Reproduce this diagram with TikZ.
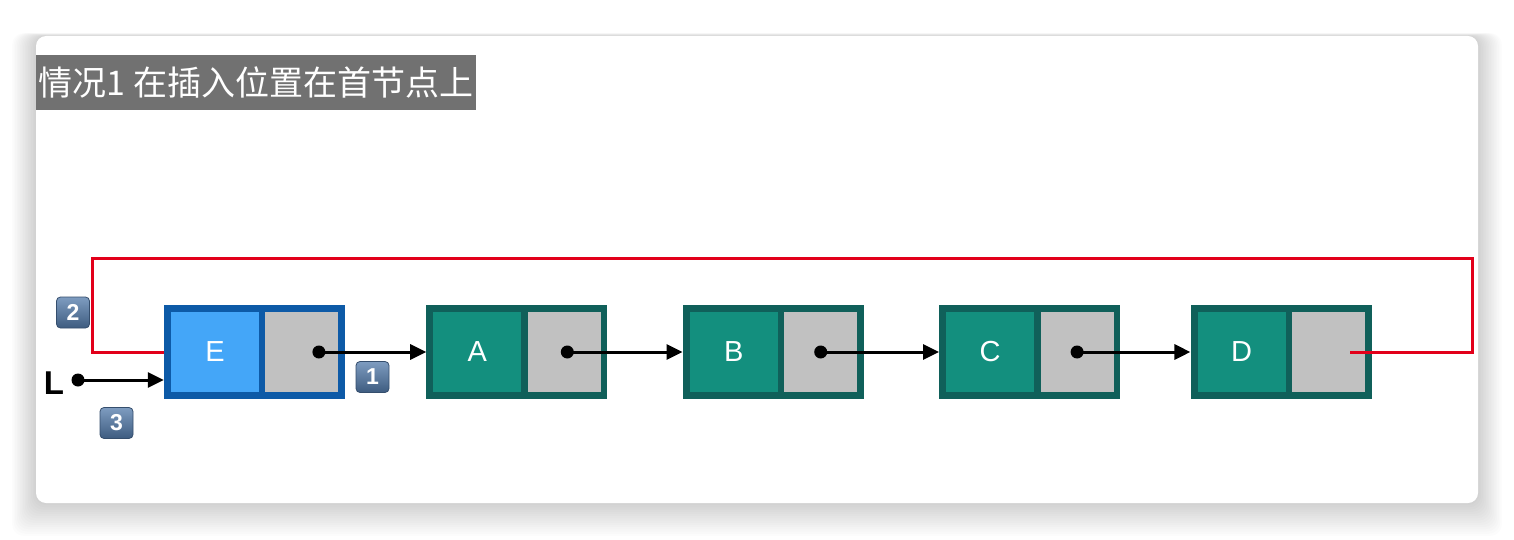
\documentclass[tikz,border=0pt]{standalone}
\usepackage{fontspec}
\setmainfont{Liberation Sans}
\newfontfamily\cjk{Noto Sans CJK SC}
\usetikzlibrary{arrows.meta,calc,positioning}
\definecolor{eblue}{HTML}{44A6F8}
\definecolor{eframe}{HTML}{0D5AA7}
\definecolor{nodeteal}{HTML}{138F7E}
\definecolor{tealframe}{HTML}{10605A}
\definecolor{cellgray}{HTML}{C1C1C1}
\definecolor{loopred}{HTML}{E2001A}
\definecolor{titlegray}{HTML}{717171}
\definecolor{badgetop}{HTML}{7E9CC0}
\definecolor{badgebot}{HTML}{3E5C80}

\begin{document}
\begin{tikzpicture}[x=1pt,y=-1pt,
 every node/.style={font=\fontsize{29}{29}\selectfont,text=white,inner sep=0pt},
 frame/.style={minimum width=181pt,minimum height=94pt,fill=#1},
 datacell/.style={minimum width=88pt,minimum height=80pt,fill=#1},
 ptrcell/.style={minimum width=73pt,minimum height=80pt,fill=cellgray},
 titlebox/.style={fill=titlegray,minimum width=440pt,minimum height=55pt,
   font=\cjk\fontsize{34}{34}\selectfont},
 badge/.style={minimum width=33pt,minimum height=31pt,rounded corners=4pt,
   top color=badgetop,bottom color=badgebot,draw=badgebot!85!black,line width=.8pt,
   font=\bfseries\fontsize{23}{23}\selectfont},
 arr/.style={-{Triangle[length=16pt,width=15pt]},line width=3pt},
 link/.style={draw=loopred,line width=3pt}]
 \useasboundingbox (0,0) rectangle (1514,540);
 \fill[white] (0,0) rectangle (1514,540);
 \foreach \i in {1,...,15}
  \fill[black,opacity=.01,rounded corners=12pt]
   ({36-1.6*\i},{36-.2*\i}) rectangle ({1478+1.6*\i},{503+2.2*\i});
 \fill[white,rounded corners=10pt] (36,36) rectangle (1478,503);
 \node[titlebox,anchor=north west] (title) at (36,55) {情况1 在插入位置在首节点上};

 \node[frame=eframe] (Ef) at (254.5,352) {};
 \node[datacell=eblue,right=7pt of Ef.west] (E) {E};
 \node[ptrcell,right=6pt of E] (Ep) {};
 \node[frame=tealframe,right=81pt of Ef] (Af) {};
 \node[datacell=nodeteal,right=7pt of Af.west] (A) {A};
 \node[ptrcell,right=6pt of A] (Ap) {};
 \node[frame=tealframe,right=75pt of Af] (Bf) {};
 \node[datacell=nodeteal,right=7pt of Bf.west] (B) {B};
 \node[ptrcell,right=6pt of B] (Bp) {};
 \node[frame=tealframe,right=75pt of Bf] (Cf) {};
 \node[datacell=nodeteal,right=7pt of Cf.west] (C) {C};
 \node[ptrcell,right=6pt of C] (Cp) {};
 \node[frame=tealframe,right=70pt of Cf] (Df) {};
 \node[datacell=nodeteal,right=7pt of Df.west] (D) {D};
 \node[ptrcell,right=6pt of D] (Dp) {};

 \coordinate[right=17pt of Ep.center] (Edot);
 \coordinate[right=3pt of Ap.center] (Adot);
 \coordinate (Bdot) at (Bp.center);
 \coordinate (Cdot) at (Cp.center);
 \coordinate[right=21pt of Dp.center] (Dend);
 \foreach \p in {Edot,Adot,Bdot,Cdot} \fill (\p) circle (6.5pt);
 \draw[arr] (Edot) -- (Edot -| Af.west);
 \draw[arr] (Adot) -- (Adot -| Bf.west);
 \draw[arr] (Bdot) -- (Bdot -| Cf.west);
 \draw[arr] (Cdot) -- (Cdot -| Df.west);

 \draw[link] (Ef.west) -- ++(-71,0) |- ($(Df.east)+(101,-94)$) |- (Dend);

 \node[text=black,font=\bfseries\fontsize{33}{33}\selectfont] (L) at (54,383) {L};
 \coordinate (Ldot) at (78,380);
 \fill (Ldot) circle (6.5pt);
 \draw[arr] (Ldot) -- (Ldot -| Ef.west);

 \node[badge] (b1) at (372.5,377) {1};
 \node[badge] (b2) at (73,312.5) {2};
 \node[badge] (b3) at (116.5,423) {3};
\end{tikzpicture}
\end{document}
